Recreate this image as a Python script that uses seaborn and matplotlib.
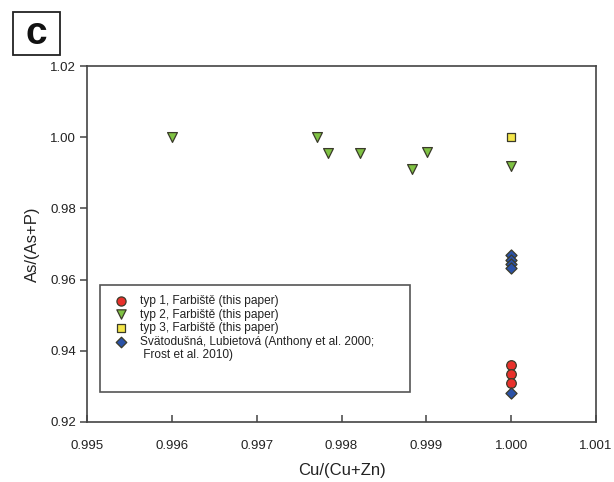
import matplotlib
matplotlib.use("Agg")
import matplotlib.pyplot as plt
import seaborn as sns
import pandas as pd
from matplotlib.patches import Rectangle
from matplotlib.lines import Line2D

# ---- data ----
typ1_x = [1.000, 1.000, 1.000]
typ1_y = [0.9360, 0.9334, 0.9309]

typ2_x = [0.99600, 0.99771, 0.99784, 0.99822, 0.99883, 0.99901, 1.000]
typ2_y = [1.0000, 1.0000, 0.9956, 0.9956, 0.9912, 0.9959, 0.9919]

typ3_x = [1.000]
typ3_y = [1.000]

svat_x = [1.000, 1.000, 1.000, 1.000, 1.000]
svat_y = [0.9670, 0.9655, 0.9643, 0.9633, 0.9281]

labels = [
    "typ 1, Farbiště (this paper)",
    "typ 2, Farbiště (this paper)",
    "typ 3, Farbiště (this paper)",
    "Svätodušná, Lubietová (Anthony et al. 2000;",
]
label_cont = " Frost et al. 2010)"
xticks = [0.995, 0.996, 0.997, 0.998, 0.999, 1.000, 1.001]
yticks = [0.92, 0.94, 0.96, 0.98, 1.00, 1.02]

sns.set_theme(style="white")
plt.rcParams["font.family"] = ["Liberation Sans", "DejaVu Sans"]

frames = []
for lab, xs, ys in zip(labels, [typ1_x, typ2_x, typ3_x, svat_x], [typ1_y, typ2_y, typ3_y, svat_y]):
    frames.append(pd.DataFrame({"x": xs, "y": ys, "group": lab}))
df = pd.concat(frames, ignore_index=True)

palette = {labels[0]: "#e8312b", labels[1]: "#7fc243", labels[2]: "#f4e64a", labels[3]: "#2b52a6"}
markers = {labels[0]: "o", labels[1]: "v", labels[2]: "s", labels[3]: "D"}
sizes_map = {labels[0]: 48, labels[1]: 50, labels[2]: 40, labels[3]: 32}

fig = plt.figure(figsize=(6.14, 4.82), dpi=100)
ax = fig.add_axes([0.1417, 0.1245, 0.8290, 0.7385])

for lab in labels:
    sub = df[df["group"] == lab]
    sns.scatterplot(data=sub, x="x", y="y", ax=ax, color=palette[lab], marker=markers[lab],
                    s=sizes_map[lab], edgecolor="#3a3a2a", linewidth=0.9, label=lab, zorder=3)

ax.set_xlim(0.995, 1.001)
ax.set_ylim(0.92, 1.02)
ax.set_xticks(xticks)
ax.set_xticklabels([f"{t:.3f}" for t in xticks])
ax.set_yticks(yticks)
ax.set_yticklabels([f"{t:.2f}" for t in yticks])

for sp in ax.spines.values():
    sp.set_color("#444444")
    sp.set_linewidth(1.2)
ax.tick_params(axis="x", direction="in", length=5, width=1.1, color="#444444",
               labelsize=9.5, pad=13, bottom=True, labelcolor="#222222")
ax.tick_params(axis="y", direction="out", length=5, width=1.1, color="#444444",
               labelsize=9.5, pad=3, left=True, labelcolor="#222222")

ax.set_xlabel("Cu/(Cu+Zn)", fontsize=12, color="#222222", labelpad=8)
ax.set_ylabel("As/(As+P)", fontsize=12, color="#222222", labelpad=7)

handles, hlabels = ax.get_legend_handles_labels()
blank = Line2D([], [], linestyle="none", marker=None)
handles = list(handles) + [blank]
hlabels = list(hlabels) + [label_cont]
leg = ax.legend(handles, hlabels, loc="upper left", bbox_to_anchor=(0.045, 0.37), frameon=False,
                fontsize=8.6, labelspacing=0.13, handletextpad=1.1, borderaxespad=0,
                handlelength=1.0, markerscale=0.95)
for t in leg.get_texts():
    t.set_color("#222222")

ax.add_patch(Rectangle((0.0255, 0.0843), 0.609, 0.3007, transform=ax.transAxes,
                       fill=False, edgecolor="#555555", linewidth=1.2, zorder=4))

# panel label box
fig.patches.append(Rectangle((0.0212, 0.8859), 0.0765, 0.0891, transform=fig.transFigure,
                             fill=True, facecolor="white", edgecolor="#222222", linewidth=1.3))
fig.text(0.0594, 0.9290, "c", fontsize=28, fontweight="bold", ha="center", va="center",
         color="#111111")

fig.savefig("out.png", dpi=100)
